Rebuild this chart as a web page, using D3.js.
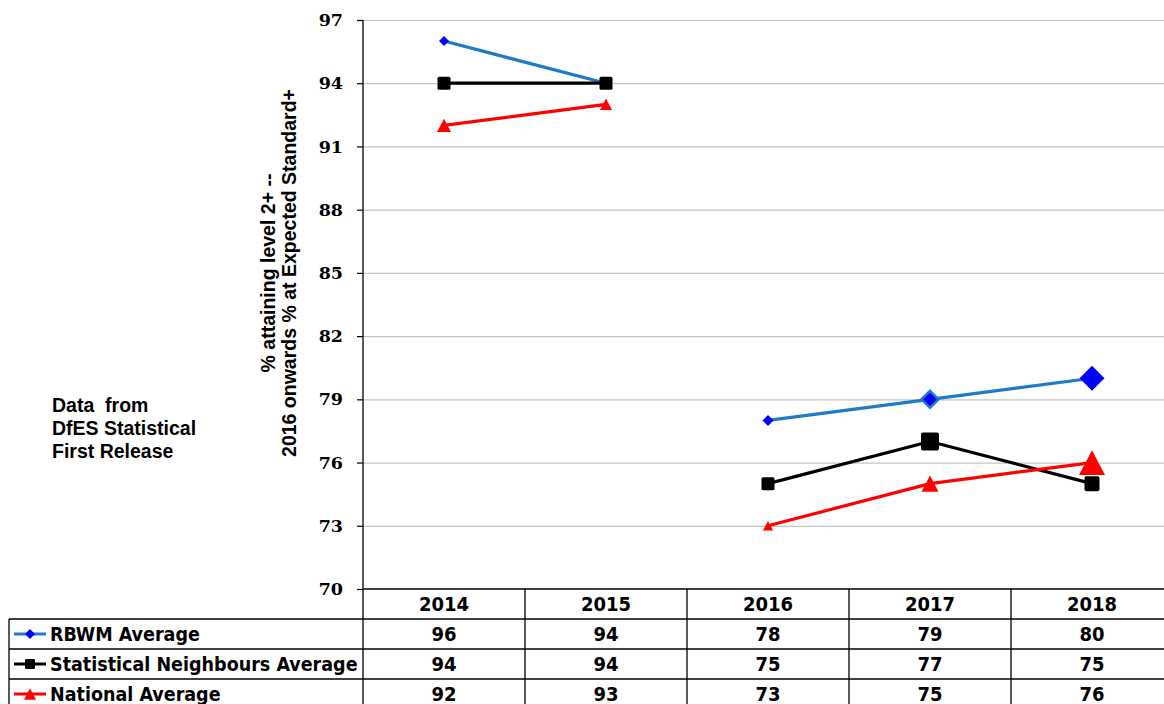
<!DOCTYPE html>
<html>
<head>
<meta charset="utf-8">
<script src="https://cdn.jsdelivr.net/npm/d3@7"></script>
<style>
  html, body { margin: 0; padding: 0; background: #fff; }
  svg { display: block; }
</style>
</head>
<body>
<svg id="chart" width="1164" height="704"></svg>
<script>
// Attainment data, 2014-2018
const years = ["2014", "2015", "2016", "2017", "2018"];
const rbwm = [96, 94, 78, 79, 80];
const statNeighbours = [94, 94, 75, 77, 75];
const national = [92, 93, 73, 75, 76];
const yTicks = [70, 73, 76, 79, 82, 85, 88, 91, 94, 97];
const seriesNames = ["RBWM Average", "Statistical Neighbours Average", "National Average"];

// Marker widths (px) for each point of each series
const markerWidths = [
  [10, 10, 11, 17, 25],
  [13, 13, 13, 18, 15],
  [14, 12, 10, 17, 26]
];

const series = [
  { name: seriesNames[0], values: rbwm, line: "#1f7ac8", fill: "#0000ff", shape: "diamond" },
  { name: seriesNames[1], values: statNeighbours, line: "#000000", fill: "#000000", shape: "square" },
  { name: seriesNames[2], values: national, line: "#ff0000", fill: "#ff0000", shape: "triangle" }
];

const svg = d3.select("#chart");
const plot = { left: 363, right: 1173, top: 20, bottom: 589 };

const x = d3.scaleBand().domain(years).range([plot.left, plot.right]).padding(0);
const y = d3.scaleLinear().domain([70, 97]).range([plot.bottom, plot.top]);
const cx = d => x(d) + x.bandwidth() / 2;

// Horizontal gridlines
svg.append("g")
  .attr("transform", `translate(${plot.left},0)`)
  .call(d3.axisLeft(y).tickValues(yTicks.filter(t => t !== 70)).tickSize(-(plot.right - plot.left)).tickFormat(""))
  .call(g => g.select(".domain").remove())
  .call(g => g.selectAll(".tick line").attr("stroke", "#c4c4c4").attr("stroke-width", 1.2));

// Y axis
const yAxis = svg.append("g")
  .attr("transform", `translate(${plot.left},0)`)
  .call(d3.axisLeft(y).tickValues(yTicks).tickSize(6).tickPadding(14).tickFormat(d3.format("d")));
yAxis.select(".domain").remove();
yAxis.selectAll(".tick line").attr("stroke", "#000").attr("stroke-width", 1.2);
yAxis.selectAll(".tick text")
  .attr("font-family", "'DejaVu Serif', serif")
  .attr("font-weight", "bold")
  .attr("font-size", 17.5)
  .attr("fill", "#000");

// Axis line continues down through the data table
svg.append("line")
  .attr("x1", plot.left).attr("x2", plot.left)
  .attr("y1", plot.top).attr("y2", 704)
  .attr("stroke", "#000").attr("stroke-width", 1.3);

// Y axis title (two lines)
const titleG = svg.append("text")
  .attr("transform", "translate(279,273) rotate(-90)")
  .attr("text-anchor", "middle")
  .attr("font-family", "'Liberation Sans', Arial, sans-serif")
  .attr("font-weight", "bold")
  .attr("font-size", 19.5)
  .attr("fill", "#000");
titleG.append("tspan").attr("x", 0).attr("dy", -4).text("% attaining level 2+ --");
titleG.append("tspan").attr("x", 0).attr("dy", 21).text("2016 onwards % at Expected Standard+");

// Source note
const note = svg.append("text")
  .attr("font-family", "'Liberation Sans', Arial, sans-serif")
  .attr("font-weight", "bold")
  .attr("font-size", 19.5)
  .attr("fill", "#000");
[["Data  from", 412], ["DfES Statistical", 435], ["First Release", 458]].forEach(([t, yy]) => {
  note.append("tspan").attr("x", 52).attr("y", yy).attr("xml:space", "preserve").text(t);
});

// Marker path builder
function markerPath(shape, w) {
  const r = w / 2;
  if (shape === "diamond") return `M0,${-r}L${r},0L0,${r}L${-r},0Z`;
  if (shape === "square") {
    const p = d3.path();
    const c = Math.min(2, w * 0.12);
    p.moveTo(-r + c, -r); p.lineTo(r - c, -r); p.quadraticCurveTo(r, -r, r, -r + c);
    p.lineTo(r, r - c); p.quadraticCurveTo(r, r, r - c, r);
    p.lineTo(-r + c, r); p.quadraticCurveTo(-r, r, -r, r - c);
    p.lineTo(-r, -r + c); p.quadraticCurveTo(-r, -r, -r + c, -r);
    p.closePath();
    return p.toString();
  }
  const h = w * 0.95;
  return `M0,${-h / 2}L${r},${h / 2}L${-r},${h / 2}Z`;
}

// Lines: 2014-2015 and 2016-2018 are separate segments
const lineGen = d3.line().x(d => cx(d.year)).y(d => y(d.value));
series.forEach((s, si) => {
  const pts = years.map((yr, i) => ({ year: yr, value: s.values[i], w: markerWidths[si][i] }));
  const segs = [pts.slice(0, 2), pts.slice(2)];
  const g = svg.append("g");
  segs.forEach(seg => {
    g.append("path")
      .attr("d", lineGen(seg))
      .attr("fill", "none")
      .attr("stroke", s.line)
      .attr("stroke-width", 3.2)
      .attr("stroke-linejoin", "round");
  });
  g.selectAll("path.mk").data(pts).join("path")
    .attr("class", "mk")
    .attr("transform", d => `translate(${cx(d.year)},${y(d.value)})`)
    .attr("d", d => markerPath(s.shape, d.w))
    .attr("fill", s.fill)
    .attr("stroke", (d, i) => (s.shape === "diamond" && i === 3) ? s.line : "none")
    .attr("stroke-width", 2.5);
});

// Data table beneath the plot
const rowTop = [589, 619, 649, 679, 709];
const tableLeft = 9;
const tbl = svg.append("g").attr("stroke", "#000").attr("stroke-width", 1.3);
// horizontal rules
tbl.append("line").attr("x1", plot.left).attr("x2", plot.right).attr("y1", rowTop[0]).attr("y2", rowTop[0]);
rowTop.slice(1).forEach(ry => {
  tbl.append("line").attr("x1", tableLeft).attr("x2", plot.right).attr("y1", ry).attr("y2", ry);
});
// vertical rules
tbl.append("line").attr("x1", tableLeft).attr("x2", tableLeft).attr("y1", rowTop[1]).attr("y2", 709);
years.forEach(yr => {
  tbl.append("line").attr("x1", x(yr) + x.bandwidth()).attr("x2", x(yr) + x.bandwidth())
    .attr("y1", rowTop[0]).attr("y2", 709);
});

const numFont = "'DejaVu Sans Condensed', 'DejaVu Sans', sans-serif";
// header row
svg.append("g").selectAll("text").data(years).join("text")
  .attr("x", d => cx(d))
  .attr("y", rowTop[0] + 22)
  .attr("text-anchor", "middle")
  .attr("font-family", numFont)
  .attr("font-stretch", "condensed")
  .attr("font-weight", "bold")
  .attr("font-size", 20)
  .text(d => d);

// series rows
series.forEach((s, si) => {
  const top = rowTop[si + 1];
  const mid = top + 15;
  const g = svg.append("g");
  g.append("line").attr("x1", 14).attr("x2", 46).attr("y1", mid).attr("y2", mid)
    .attr("stroke", s.line).attr("stroke-width", 3);
  g.append("path").attr("transform", `translate(30,${mid})`)
    .attr("d", markerPath(s.shape, s.shape === "triangle" ? 12 : 10))
    .attr("fill", s.fill);
  g.append("text")
    .attr("x", 50).attr("y", mid + 7)
    .attr("font-family", numFont)
    .attr("font-stretch", "condensed")
    .attr("font-weight", "bold")
    .attr("font-size", 19.5)
    .text(s.name);
  g.selectAll("text.v").data(s.values).join("text")
    .attr("class", "v")
    .attr("x", (d, i) => cx(years[i]))
    .attr("y", mid + 7)
    .attr("text-anchor", "middle")
    .attr("font-family", numFont)
    .attr("font-stretch", "condensed")
    .attr("font-weight", "bold")
    .attr("font-size", 20)
    .text(d => d);
});
</script>
</body>
</html>
